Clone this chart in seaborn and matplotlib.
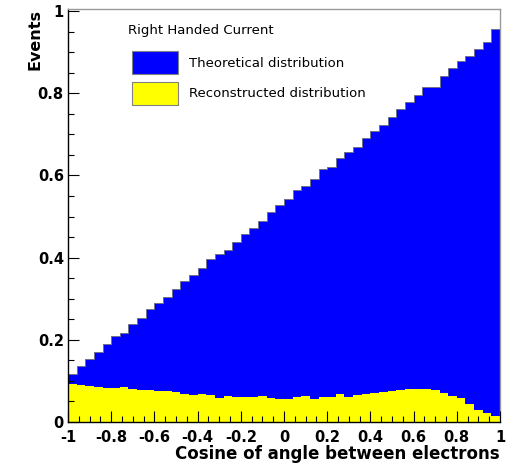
import numpy as np
import pandas as pd
import seaborn as sns
import matplotlib
matplotlib.use("Agg")
import matplotlib.pyplot as plt
from matplotlib.patches import Patch
from matplotlib.ticker import MultipleLocator, FuncFormatter

# ---------------- data ----------------
x_min, x_max, n_bins = -1.0, 1.0, 50
theoretical = [0.116, 0.136, 0.154, 0.170, 0.191, 0.209, 0.217, 0.238, 0.252, 0.274,
               0.289, 0.303, 0.323, 0.344, 0.358, 0.375, 0.396, 0.410, 0.418, 0.437,
               0.457, 0.473, 0.490, 0.512, 0.527, 0.543, 0.564, 0.574, 0.591, 0.615,
               0.621, 0.643, 0.656, 0.668, 0.690, 0.709, 0.722, 0.741, 0.762, 0.778,
               0.796, 0.814, 0.816, 0.841, 0.862, 0.878, 0.890, 0.908, 0.925, 0.956]
reconstructed = [0.092, 0.089, 0.088, 0.086, 0.082, 0.082, 0.084, 0.080, 0.079, 0.077,
                 0.076, 0.075, 0.073, 0.067, 0.066, 0.069, 0.066, 0.059, 0.063, 0.062,
                 0.062, 0.062, 0.064, 0.058, 0.056, 0.057, 0.062, 0.064, 0.056, 0.060,
                 0.062, 0.068, 0.062, 0.066, 0.068, 0.071, 0.074, 0.076, 0.079, 0.080,
                 0.080, 0.080, 0.078, 0.071, 0.064, 0.058, 0.043, 0.029, 0.021, 0.015]
series_labels = ["Theoretical distribution", "Reconstructed distribution"]
header = "Right Handed Current"
x_title = "Cosine of angle between electrons"
y_title = "Events"

edges = np.linspace(x_min, x_max, n_bins + 1)
centers = 0.5 * (edges[:-1] + edges[1:])
df = pd.DataFrame({"x": centers, "theo": theoretical, "reco": reconstructed})

# ---------------- style ----------------
sns.set_style("ticks")
plt.rcParams["font.family"] = ["DejaVu Sans"]
plt.rcParams["axes.unicode_minus"] = False
for key in ["text.color", "axes.labelcolor", "xtick.color", "ytick.color",
            "xtick.labelcolor", "ytick.labelcolor"]:
    plt.rcParams[key] = "black"

BLUE = "#0000ff"
YELLOW = "#ffff00"

fig = plt.figure(figsize=(5.13, 4.68), dpi=100)
ax = fig.add_axes([68 / 513, 46 / 468, 432 / 513, 413 / 468])

sns.histplot(data=df, x="x", weights="theo", bins=n_bins, binrange=(x_min, x_max),
             element="step", fill=True, color=BLUE, alpha=1,
             edgecolor="#6f6f8f", linewidth=0.7, ax=ax)
sns.histplot(data=df, x="x", weights="reco", bins=n_bins, binrange=(x_min, x_max),
             element="step", fill=True, color=YELLOW, alpha=1,
             edgecolor=YELLOW, linewidth=0.0, ax=ax)

ax.set_xlim(x_min, x_max)
ax.set_ylim(0, 1.005)
ax.set_axisbelow(False)

# ticks
ax.xaxis.set_major_locator(MultipleLocator(0.2))
ax.xaxis.set_minor_locator(MultipleLocator(0.05))
ax.yaxis.set_major_locator(MultipleLocator(0.2))
ax.yaxis.set_minor_locator(MultipleLocator(0.05))
fmt = FuncFormatter(lambda v, p: "%g" % round(v, 3))
ax.xaxis.set_major_formatter(fmt)
ax.yaxis.set_major_formatter(fmt)
ax.tick_params(which="major", direction="in", length=8, width=0.8, color="black",
               labelcolor="black", labelsize=10.5, top=False, right=False)
ax.tick_params(axis="x", which="major", pad=6)
ax.tick_params(axis="y", which="major", pad=3)
ax.tick_params(which="minor", direction="in", length=4, width=0.8, color="black",
               top=False, right=False)
for lab in ax.get_xticklabels() + ax.get_yticklabels():
    lab.set_fontweight("bold")

for s in ["left", "bottom"]:
    ax.spines[s].set_color("black")
    ax.spines[s].set_linewidth(1.0)
for s in ["top", "right"]:
    ax.spines[s].set_visible(True)
    ax.spines[s].set_color("#9a9a9a")
    ax.spines[s].set_linewidth(1.0)

ax.set_xlabel(x_title, fontsize=12, fontweight="bold", loc="right", color="black")
ax.set_ylabel(y_title, fontsize=11.5, fontweight="bold", loc="top", color="black")
ax.xaxis.set_label_coords(1.0, -0.055)
ax.yaxis.set_label_coords(-0.06, 1.0)

# legend
ax.text((128 - 68) / 432, (422 - 24) / 413, header, transform=ax.transAxes,
        ha="left", va="top", fontsize=9.5, color="black")
handles = [Patch(facecolor=BLUE, edgecolor="#808080", linewidth=0.8),
           Patch(facecolor=YELLOW, edgecolor="#808080", linewidth=0.8)]
leg = ax.legend(handles, series_labels, loc="upper left",
                bbox_to_anchor=((132 - 68) / 432, (422 - 51) / 413),
                frameon=False, borderpad=0, borderaxespad=0, fontsize=9.5,
                handlelength=3.5, handleheight=2.3, handletextpad=0.85, labelspacing=0.6)
for t in leg.get_texts():
    t.set_color("black")

fig.savefig("out.png", dpi=100)
